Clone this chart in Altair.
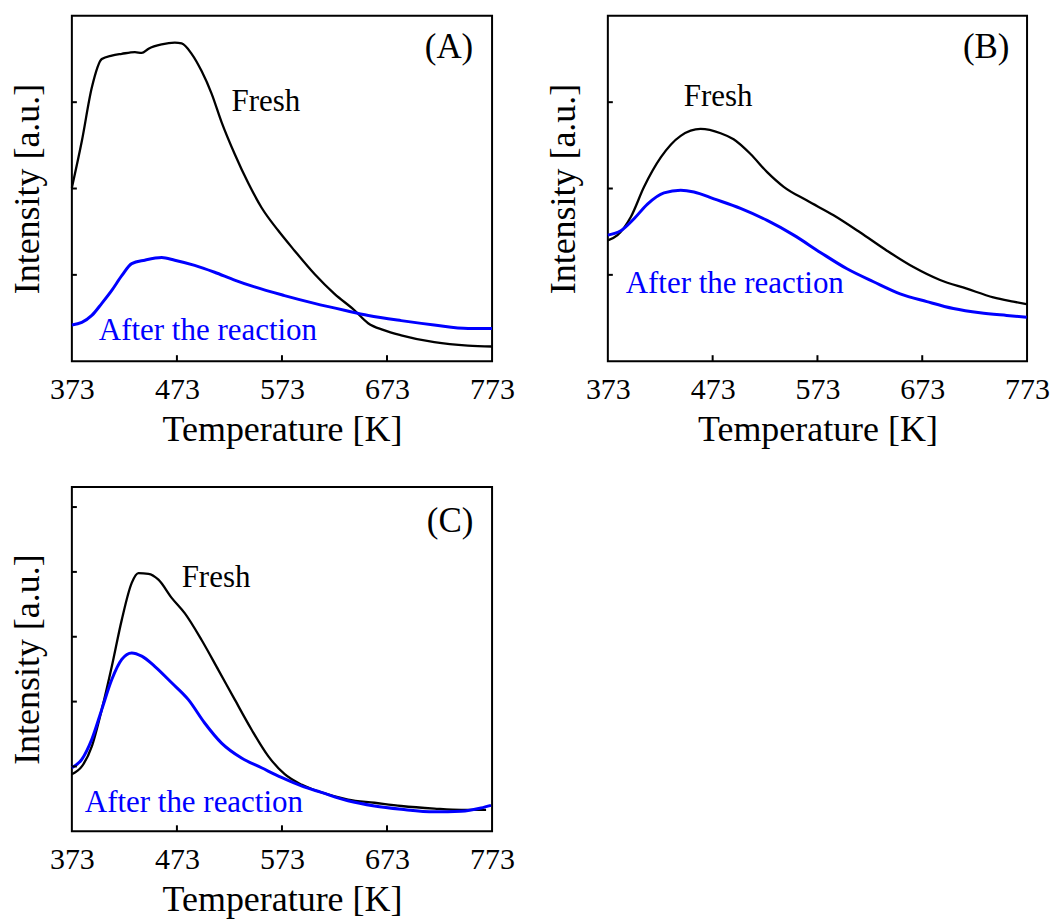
import altair as alt
import pandas as pd

FONT = "Liberation Serif"
SERIES = ["Fresh", "After the reaction"]
COLORS = ["black", "blue"]

x_labels = [373, 473, 573, 673, 773]
x_ticks = [473, 573, 673]

# ---------------- Panel A ----------------
a_fresh_T = [373, 382.5, 392, 401.5, 411, 420.5, 433, 439.5, 446, 458.5, 471, 477.5, 487, 496.5, 506,
             515.5, 528, 541, 553.5, 569.6, 585, 604, 623, 642, 655, 670, 686.5, 718, 750, 773]
a_fresh_I = [2.01, 2.55, 3.17, 3.50, 3.54, 3.56, 3.58, 3.57, 3.62, 3.67, 3.69, 3.68, 3.56, 3.36, 3.10,
             2.77, 2.40, 2.06, 1.78, 1.51, 1.28, 1.01, 0.78, 0.59, 0.44, 0.36, 0.30, 0.22, 0.18, 0.17]
a_after_T = [373, 382.5, 392, 401.5, 411, 420.5, 430, 442.4, 458.5, 470.9, 489.9, 508.9, 527.9, 546.9,
             575.4, 603.9, 632.4, 655.2, 686.5, 717.9, 750.2, 773]
a_after_I = [0.42, 0.45, 0.53, 0.67, 0.82, 0.99, 1.13, 1.17, 1.20, 1.17, 1.11, 1.03, 0.94, 0.86,
             0.76, 0.67, 0.59, 0.53, 0.47, 0.42, 0.38, 0.38]
a_y_ticks = [1, 2, 3]

# ---------------- Panel B ----------------
b_fresh_T = [373, 382.2, 394.9, 407.6, 423.5, 442.5, 461.5, 480.6, 493, 509.1, 525, 540.8, 563.1,
             588.4, 613.9, 639.3, 664.6, 690, 715.5, 740.8, 759.9, 772.7]
b_fresh_I = [1.40, 1.46, 1.67, 2.02, 2.36, 2.61, 2.69, 2.64, 2.57, 2.40, 2.19, 2.02, 1.86,
             1.69, 1.49, 1.28, 1.09, 0.94, 0.84, 0.74, 0.69, 0.66]
b_after_T = [373, 385.4, 398, 410.8, 426.6, 442.5, 455.2, 474.2, 499.6, 525, 550.4, 575.8, 601.2,
             626.5, 651.9, 677.4, 702.7, 728.1, 753.6, 772.7]
b_after_I = [1.46, 1.51, 1.65, 1.82, 1.95, 1.98, 1.96, 1.88, 1.77, 1.63, 1.46, 1.26, 1.07,
             0.92, 0.78, 0.69, 0.61, 0.56, 0.53, 0.51]
b_y_ticks = [1, 2, 3]

# ---------------- Panel C ----------------
c_fresh_T = [373, 382.5, 392, 401.5, 411, 420.5, 430, 436.4, 445.9, 455.4, 468, 480.6, 496.5, 512.4,
             528.1, 544, 559.9, 575.6, 591.5, 610.5, 635.9, 661.1, 686.5, 718.1, 743.5, 767.3]
c_fresh_I = [0.88, 1.00, 1.31, 1.88, 2.54, 3.26, 3.83, 3.98, 3.97, 3.88, 3.60, 3.36, 2.95, 2.49,
             2.03, 1.57, 1.16, 0.88, 0.72, 0.60, 0.49, 0.44, 0.39, 0.35, 0.33, 0.33]
c_after_T = [373, 382.5, 392, 401.5, 411, 420.5, 430, 439.5, 452.1, 468, 483.9, 499.4, 515.5, 534.5,
             553.5, 572.5, 591.5, 610.5, 635.9, 661.1, 686.5, 718.1, 743.5, 762.5, 772]
c_after_I = [0.98, 1.11, 1.42, 1.88, 2.34, 2.65, 2.75, 2.70, 2.54, 2.29, 2.03, 1.67, 1.36, 1.13,
             0.98, 0.83, 0.70, 0.60, 0.47, 0.39, 0.34, 0.30, 0.31, 0.36, 0.40]
c_y_ticks = [1, 2, 3, 4, 5]


def series_df(fT, fI, aT, aI):
    return pd.concat([
        pd.DataFrame({"T": fT, "I": fI, "series": SERIES[0]}),
        pd.DataFrame({"T": aT, "I": aI, "series": SERIES[1]}),
    ], ignore_index=True)


def panel(df, ydom, yticks, w, h, tag, tag_pos, fresh_pos, after_pos):
    xs = alt.Scale(domain=[373, 773], nice=False, zero=False)
    ys = alt.Scale(domain=ydom, nice=False, zero=False)
    x = alt.X("T:Q", scale=xs, axis=alt.Axis(
        values=x_labels, format="d", labelFlush=False, ticks=False, domain=False, grid=False,
        labelFont=FONT, titleFont=FONT, labelColor="black", titleColor="black",
        titleFontWeight="normal",
        labelFontSize=30, labelPadding=13, title="Temperature [K]", titleFontSize=36,
        titlePadding=8))
    y = alt.Y("I:Q", scale=ys, axis=alt.Axis(
        labels=False, ticks=False, domain=False, grid=False, title="Intensity [a.u.]",
        titleFont=FONT, titleColor="black", titleFontWeight="normal",
        titleFontSize=36, titlePadding=25))

    lines = alt.Chart(df).mark_line(interpolate="monotone").encode(
        x=x, y=y,
        color=alt.Color("series:N", scale=alt.Scale(domain=SERIES, range=COLORS), legend=None),
        strokeWidth=alt.StrokeWidth("series:N", scale=alt.Scale(domain=SERIES, range=[2.3, 3.0]),
                                    legend=None),
    )
    ytk = alt.Chart(pd.DataFrame({"I": yticks})).mark_rule(color="black", strokeWidth=2).encode(
        y=alt.Y("I:Q", scale=ys), x=alt.value(0), x2=alt.value(5))
    xtk = alt.Chart(pd.DataFrame({"T": x_ticks})).mark_rule(color="black", strokeWidth=2).encode(
        x=alt.X("T:Q", scale=xs), y=alt.value(h), y2=alt.value(h - 6))

    t_tag = alt.Chart().mark_text(font=FONT, fontSize=35, align="center", baseline="alphabetic",
                                  color="black").encode(
        x=alt.datum(tag_pos[0]), y=alt.datum(tag_pos[1]), text=alt.value(tag))
    t_fresh = alt.Chart().mark_text(font=FONT, fontSize=31, align="left", baseline="alphabetic",
                                    color="black").encode(
        x=alt.datum(fresh_pos[0]), y=alt.datum(fresh_pos[1]), text=alt.value("Fresh"))
    t_after = alt.Chart().mark_text(font=FONT, fontSize=31, align="left", baseline="alphabetic",
                                    color="blue").encode(
        x=alt.datum(after_pos[0]), y=alt.datum(after_pos[1]), text=alt.value("After the reaction"))

    return alt.layer(lines, ytk, xtk, t_tag, t_fresh, t_after).properties(width=w, height=h)


A = panel(series_df(a_fresh_T, a_fresh_I, a_after_T, a_after_I), [0, 4], a_y_ticks, 421, 346,
          "(A)", (732, 3.51), (525, 2.90), (398.7, 0.25))
B = panel(series_df(b_fresh_T, b_fresh_I, b_after_T, b_after_I), [0, 4], b_y_ticks, 420, 346,
          "(B)", (734, 3.51), (445.4, 2.95), (390, 0.79))
C = panel(series_df(c_fresh_T, c_fresh_I, c_after_T, c_after_I), [0, 5.31], c_y_ticks, 421, 345,
          "(C)", (733, 4.62), (477.5, 3.77), (385.3, 0.29))

chart = alt.concat(A, B, C, columns=2, spacing={"row": 126, "column": 116}, bounds="flush").properties(
    padding={"left": 9, "top": 14, "right": 0, "bottom": 0},
    background="white",
).configure_view(
    stroke="black", strokeWidth=2, fill="white"
)

chart.save("out.html", embed_options={"renderer": "svg", "actions": False})
